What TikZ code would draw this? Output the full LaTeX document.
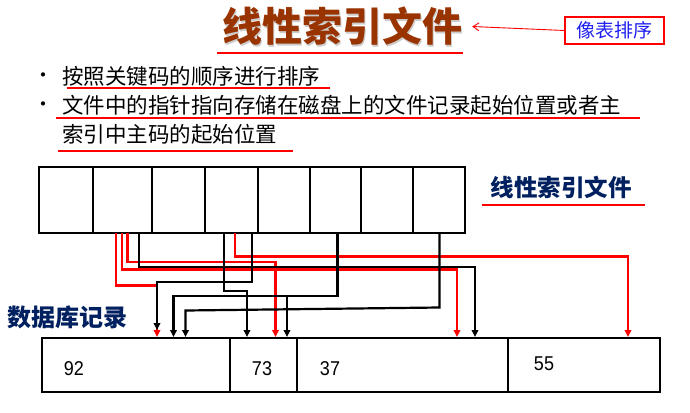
\documentclass[tikz,border=0pt]{standalone}
\usepackage{fontspec}
\setmainfont{Liberation Sans}
\newfontfamily\cjk{Noto Sans CJK SC}
\usetikzlibrary{arrows.meta}
\definecolor{titlebrown}{RGB}{153,51,0}
\definecolor{navy}{RGB}{0,32,96}
\definecolor{notblue}{RGB}{30,30,240}
\begin{document}
\begin{tikzpicture}[x=1pt,y=-1pt,
  cell/.style={draw=black, line width=1.8pt, minimum height=66pt, inner sep=0pt, outer sep=0pt},
  rec/.style={draw=black, line width=2.2pt, minimum height=54pt, inner sep=0pt, outer sep=0pt},
  body/.style={anchor=west, inner sep=0pt, font=\cjk\fontsize{21.5}{22}\selectfont},
  ul/.style={red, line width=2pt},
  rline/.style={red, line width=2.2pt, -{Triangle[length=7pt,width=6.5pt]}},
  bline/.style={black, line width=2.2pt, -{Triangle[length=7pt,width=6.5pt]}},
  num/.style={font=\fontsize{20}{20}\selectfont, xscale=0.9, inner sep=0pt}
]
\useasboundingbox (0,0) rectangle (690,412);

% title
\node[text=gray!40, font=\cjk\bfseries\fontsize{40}{40}\selectfont, inner sep=0pt] (titleshadow) at (343.5,28) {线性索引文件};
\node[text=titlebrown, font=\cjk\bfseries\fontsize{40}{40}\selectfont, inner sep=0pt] (title) at (342,26.5) {线性索引文件};
\coordinate (tul1) at (217,53.5);
\coordinate (tul2) at (463,53.5);
\draw[ul] (tul1) -- (tul2);

% note box
\node[draw=red, line width=1.1pt, minimum width=99pt, minimum height=27pt, inner sep=0pt, text=notblue, font=\cjk\fontsize{19}{19}\selectfont] (note) at (614.5,30.5) {像表排序};
\draw[red, line width=0.9pt, -{Straight Barb[length=6pt,width=8pt]}] (note.west) -- ([xshift=10pt]title.east);

% bullets
\node[font=\cjk\fontsize{20}{20}\selectfont, inner sep=0pt] (dot1) at (43,78) {·};
\node[font=\cjk\fontsize{20}{20}\selectfont, inner sep=0pt] (dot2) at (43,107) {·};
\node[body] (l1) at (62,76) {按照关键码的顺序进行排序};
\node[body] (l2) at (62,105) {文件中的指针指向存储在磁盘上的文件记录起始位置或者主};
\node[body] (l3) at (62,134) {索引中主码的起始位置};
\coordinate (u1a) at (67,88); \coordinate (u1b) at (330,88);
\coordinate (u2a) at (56,117.5); \coordinate (u2b) at (640,117.5);
\coordinate (u3a) at (58,150.5); \coordinate (u3b) at (293,150.5);
\draw[ul] (u1a) -- (u1b);
\draw[ul] (u2a) -- (u2b);
\draw[ul] (u3a) -- (u3b);

% index cells
\node[cell, minimum width=54pt] (c1) at (66,200) {};
\node[cell, minimum width=59pt] (c2) at (122.5,200) {};
\node[cell, minimum width=53pt] (c3) at (178.5,200) {};
\node[cell, minimum width=53pt] (c4) at (231.5,200) {};
\node[cell, minimum width=52pt] (c5) at (284,200) {};
\node[cell, minimum width=51pt] (c6) at (335.5,200) {};
\node[cell, minimum width=52pt] (c7) at (387,200) {};
\node[cell, minimum width=52pt] (c8) at (439,200) {};

% labels
\node[text=navy, font=\cjk\bfseries\fontsize{23.5}{24}\selectfont, inner sep=0pt] (lbl1) at (561,187) {线性索引文件};
\coordinate (lu1) at (482,204.5); \coordinate (lu2) at (645,204.5);
\draw[ul] (lu1) -- (lu2);
\node[text=navy, font=\cjk\bfseries\fontsize{24}{24}\selectfont, inner sep=0pt] (lbl2) at (67.5,317) {数据库记录};

% records
\node[rec, minimum width=188pt] (r1) at (136,365) {};
\node[rec, minimum width=67pt] (r2) at (263.5,365) {};
\node[rec, minimum width=211pt] (r3) at (402.5,365) {};
\node[rec, minimum width=152pt] (r4) at (584,365) {};
\node[num] (n1) at (74,369) {92};
\node[num] (n2) at (262,369) {73};
\node[num] (n3) at (330,369) {37};
\node[num] (n4) at (544,364) {55};

% start points on index cells
\coordinate (s1) at (116,233);
\coordinate (s2) at (122,233);
\coordinate (s3) at (127.5,233);
\coordinate (s4) at (139,233);
\coordinate (s5) at (224,233);
\coordinate (s6) at (235,233);
\coordinate (s7) at (252,233);
\coordinate (s8) at (337.5,233);
\coordinate (s9) at (439.5,233);
% end points on records
\coordinate (t1) at (157,337);
\coordinate (t1b) at (157,330);
\coordinate (t2) at (173.5,337);
\coordinate (t3) at (185.5,337);
\coordinate (t4) at (247,337);
\coordinate (t5) at (275.5,337);
\coordinate (t6) at (287,337);
\coordinate (t7) at (457,337);
\coordinate (t8) at (475,337);
\coordinate (t9) at (628,337);

% red connectors
\draw[rline] (s1) |- (157,285.5) -- (t1);
\draw[rline] (s2) |- (457,269.5) -- (t7);
\draw[rline] (s3) |- (275.5,262) -- (t5);
\draw[rline] (s6) |- (628,256.5) -- (t9);
% black connectors
\draw[bline] (s4) |- (475,267) -- (t8);
\draw[bline] (s5) |- (247,291) -- (t4);
\draw[bline] (s7) |- (157,282) -- (t1b);
\draw[bline] (s8) |- (173.5,296) -- (t2);
\draw[bline] (337.5,296) -| (t6);
\draw[bline] (s9) -- (439.5,307.5) -- (185.5,310.5) -- (t3);
\end{tikzpicture}
\end{document}
